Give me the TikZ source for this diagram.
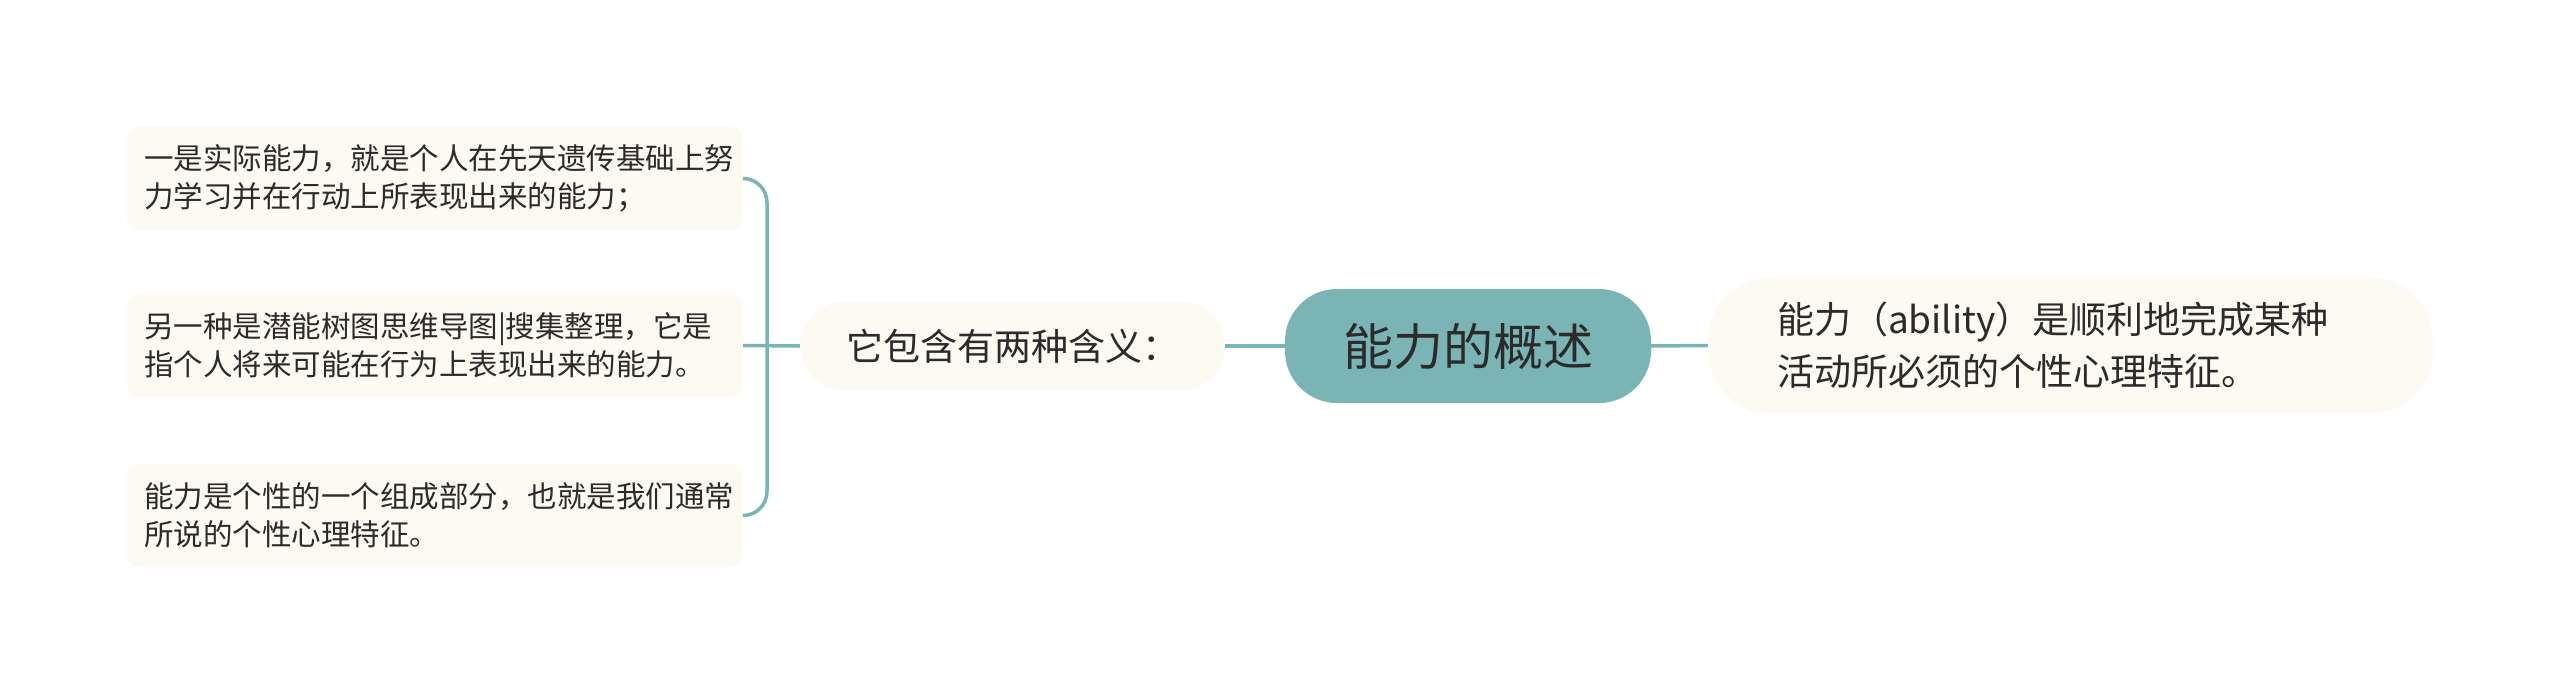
\documentclass[tikz,border=0pt]{standalone}
\usepackage{fontspec}
\setmainfont{Noto Sans CJK SC}
\definecolor{teal}{HTML}{7BB4B5}
\definecolor{cream}{HTML}{FCFAF1}
\definecolor{ink}{HTML}{2B2B2B}
\tikzset{
  link/.style={draw=teal, line width=3.5pt},
  centerbox/.style={fill=teal, rounded corners=52pt, minimum width=366pt, minimum height=114pt, inner sep=0pt, text=ink, font=\fontsize{50}{60}\selectfont},
  bigbox/.style={fill=cream, align=left, inner ysep=0pt, text=ink, font=\fontsize{37}{52}\selectfont},
  smallbox/.style={fill=cream, rounded corners=12pt, align=left, minimum height=103pt, inner ysep=0pt, inner xsep=17pt, text width=582pt, text=ink, font=\fontsize{29.5}{38}\selectfont},
}
\begin{document}
\begin{tikzpicture}[x=1pt, y=-1pt]
\useasboundingbox[fill=white] (0,0) rectangle (2560,693);
\node[centerbox] (c) at (1468,346) {能力的概述};
\node[bigbox, rounded corners=62pt, minimum height=135pt, inner xsep=69pt, text width=587pt] (r) at (2070.5,345.5) {能力（ability）是顺利地完成某种\\活动所必须的个性心理特征。};
\node[bigbox, rounded corners=44pt, minimum height=88pt, inner xsep=46pt, text width=333pt] (m) at (1012.5,346) {它包含有两种含义：};
\node[smallbox] (b1) at (435,178.5) {一是实际能力，就是个人在先天遗传基础上努\\力学习并在行动上所表现出来的能力；};
\node[smallbox] (b2) at (435,345.5) {另一种是潜能树图思维导图|搜集整理，它是\\指个人将来可能在行为上表现出来的能力。};
\node[smallbox] (b3) at (435,515.5) {能力是个性的一个组成部分，也就是我们通常\\所说的个性心理特征。};
\coordinate (bx) at (767,346);
\draw[link] (c.east) -- (r.west);
\draw[link] (c.west) -- (m.west -| m.east);
\draw[link] (m.west) -- (b2.east);
\draw[link, rounded corners=24pt] (b1.east) -| (bx |- b3.east) -- (b3.east);
\end{tikzpicture}
\end{document}
